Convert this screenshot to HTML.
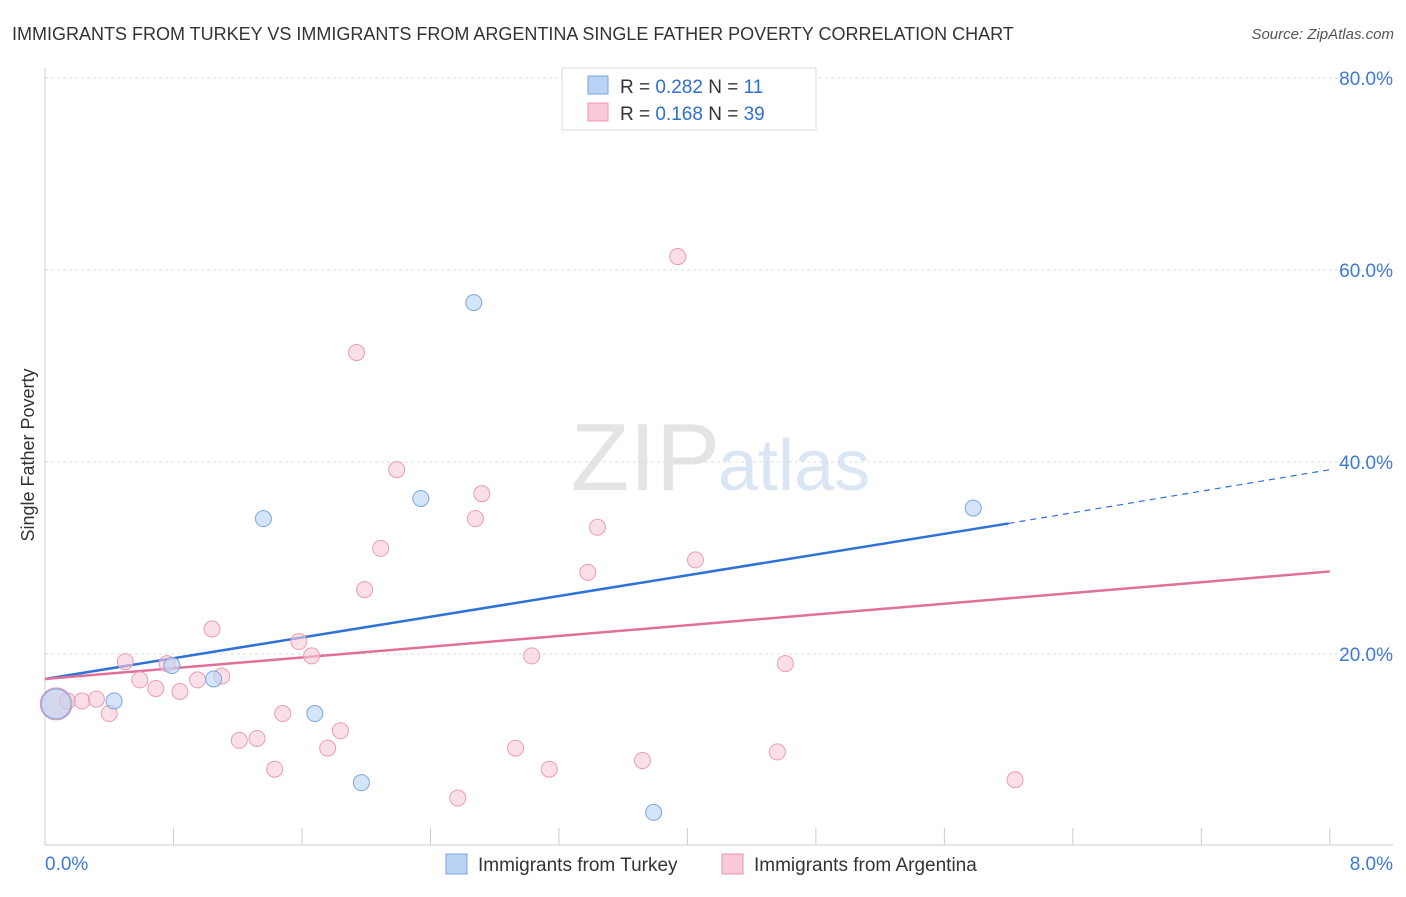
<!DOCTYPE html>
<html><head><meta charset="utf-8"><style>
body{margin:0;background:#fff;font-family:"Liberation Sans",sans-serif;}
svg text{font-family:"Liberation Sans",sans-serif;}
</style></head><body>
<svg id="chart" width="1406" height="892" xmlns="http://www.w3.org/2000/svg">
<text x="12" y="40" font-size="18" fill="#333">IMMIGRANTS FROM TURKEY VS IMMIGRANTS FROM ARGENTINA SINGLE FATHER POVERTY CORRELATION CHART</text>
<text x="1394" y="39" font-size="15" fill="#555" font-style="italic" text-anchor="end">Source: ZipAtlas.com</text>
<text x="720" y="490" font-size="96" fill="#e4e4e4" text-anchor="end" font-family="Liberation Serif">ZIP</text>
<text x="718" y="490" font-size="72" fill="#dbe6f5">atlas</text>
<text transform="translate(34,455) rotate(-90)" font-size="18" fill="#333" text-anchor="middle">Single Father Poverty</text>
<g id="grid"></g><g id="axes"></g><g id="lines"></g><g id="pts"></g>
<g>
<rect x="562" y="68" width="254" height="62" fill="#fff" stroke="#ddd"/>
<rect x="588" y="76" width="20" height="18" fill="#b9d3f5" stroke="#7aa6e0"/>
<text x="620" y="93" font-size="19" fill="#333">R = <tspan fill="#2e6fd1">0.282</tspan>   N =  <tspan fill="#2e6fd1">11</tspan></text>
<rect x="588" y="103" width="20" height="18" fill="#f9c9d7" stroke="#e896ae"/>
<text x="620" y="120" font-size="19" fill="#333">R =  <tspan fill="#2e6fd1">0.168</tspan>   N = <tspan fill="#2e6fd1">39</tspan></text>
</g>
<g>
<rect x="446" y="854" width="21" height="20" fill="#b9d3f5" stroke="#7aa6e0"/>
<text x="478" y="871" font-size="19" fill="#333">Immigrants from Turkey</text>
<rect x="722" y="854" width="21" height="20" fill="#f9c9d7" stroke="#e896ae"/>
<text x="754" y="871" font-size="19" fill="#333">Immigrants from Argentina</text>
</g>
</svg>
<script>
const yTicks=[20,40,60,80];
const yTickLabels=["20.0%","40.0%","60.0%","80.0%"];
const turkeyX=[0.07,0.43,0.79,1.05,1.36,1.68,1.97,2.34,2.67,3.79,5.78];
const turkeyY=[14.8,15.1,18.8,17.4,34.1,13.8,6.6,36.2,56.6,3.5,35.2];
const argX=[0.07,0.14,0.23,0.32,0.4,0.5,0.59,0.69,0.76,0.84,0.95,1.04,1.1,1.21,1.32,1.43,1.48,1.58,1.66,1.76,1.84,1.94,1.99,2.09,2.19,2.57,2.68,2.72,2.93,3.03,3.14,3.38,3.44,3.72,3.94,4.05,4.56,4.61,6.04];
const argY=[14.8,15.1,15.1,15.3,13.8,19.2,17.3,16.4,19.0,16.1,17.3,22.6,17.7,11.0,11.2,8.0,13.8,21.3,19.8,10.2,12.0,51.4,26.7,31.0,39.2,5.0,34.1,36.7,10.2,19.8,8.0,28.5,33.2,8.9,61.4,29.8,9.8,19.0,6.9];
const turkeyFit=[17.4,33.6], turkeyFitX=[0,6.0], turkeyDashX=[6.0,8.0], turkeyDashY=[33.6,39.2];
const argFitX=[0,8.0], argFitY=[17.4,28.6];
const X=v=>45+v*160.6, Y=v=>846-v*9.6;
const NS="http://www.w3.org/2000/svg";
function mk(t,a,p){const e=document.createElementNS(NS,t);for(const k in a)e.setAttribute(k,a[k]);document.getElementById(p).appendChild(e);return e;}
yTicks.forEach((t,i)=>{
 let l=mk('line',{x1:45,x2:1393,y1:Y(t),y2:Y(t),stroke:'#ddd','stroke-dasharray':'3,3'},'grid');
 
 
 let tx=mk('text',{x:1393,y:Y(t)+7,'font-size':19,fill:'#3b78d8','text-anchor':'end'},'grid');tx.textContent=yTickLabels[i];
 
 
});
let ax=mk('line',{x1:45,x2:1393,y1:845,y2:845,stroke:'#ccc'},'axes');


let ay=mk('line',{x1:45,x2:45,y1:68,y2:845,stroke:'#ccc'},'axes');


for(let i=0;i<=10;i++){let t=mk('line',{x1:X(i*0.8),x2:X(i*0.8),y1:828,y2:845,stroke:'#ccc'},'axes');
 
 }
let a0=mk('text',{x:45,y:870,'font-size':19,fill:'#3b78d8'},'axes');a0.textContent='0.0%';


let a1=mk('text',{x:1393,y:870,'font-size':19,fill:'#3b78d8','text-anchor':'end'},'axes');a1.textContent='8.0%';


let l1=mk('line',{x1:X(turkeyFitX[0]),y1:Y(turkeyFit[0]),x2:X(turkeyFitX[1]),y2:Y(turkeyFit[1]),stroke:'#2e72d8','stroke-width':2.5},'lines');


let l2=mk('line',{x1:X(turkeyDashX[0]),y1:Y(turkeyDashY[0]),x2:X(turkeyDashX[1]),y2:Y(turkeyDashY[1]),stroke:'#2e72d8','stroke-width':1.2,'stroke-dasharray':'6,5'},'lines');


let l3=mk('line',{x1:X(argFitX[0]),y1:Y(argFitY[0]),x2:X(argFitX[1]),y2:Y(argFitY[1]),stroke:'#e0709a','stroke-width':2.5},'lines');


argX.forEach((x,i)=>{let c=mk('circle',{cx:X(x),cy:Y(argY[i]),r:i==0?16:8,fill:'#f9c9d7','fill-opacity':0.6,stroke:'#eb9cb4'},'pts');
 
 });
turkeyX.forEach((x,i)=>{let c=mk('circle',{cx:X(x),cy:Y(turkeyY[i]),r:i==0?15:8,fill:'#b9d3f5','fill-opacity':0.6,stroke:'#7aa6e0'},'pts');
 
 });
</script>
</body></html>
